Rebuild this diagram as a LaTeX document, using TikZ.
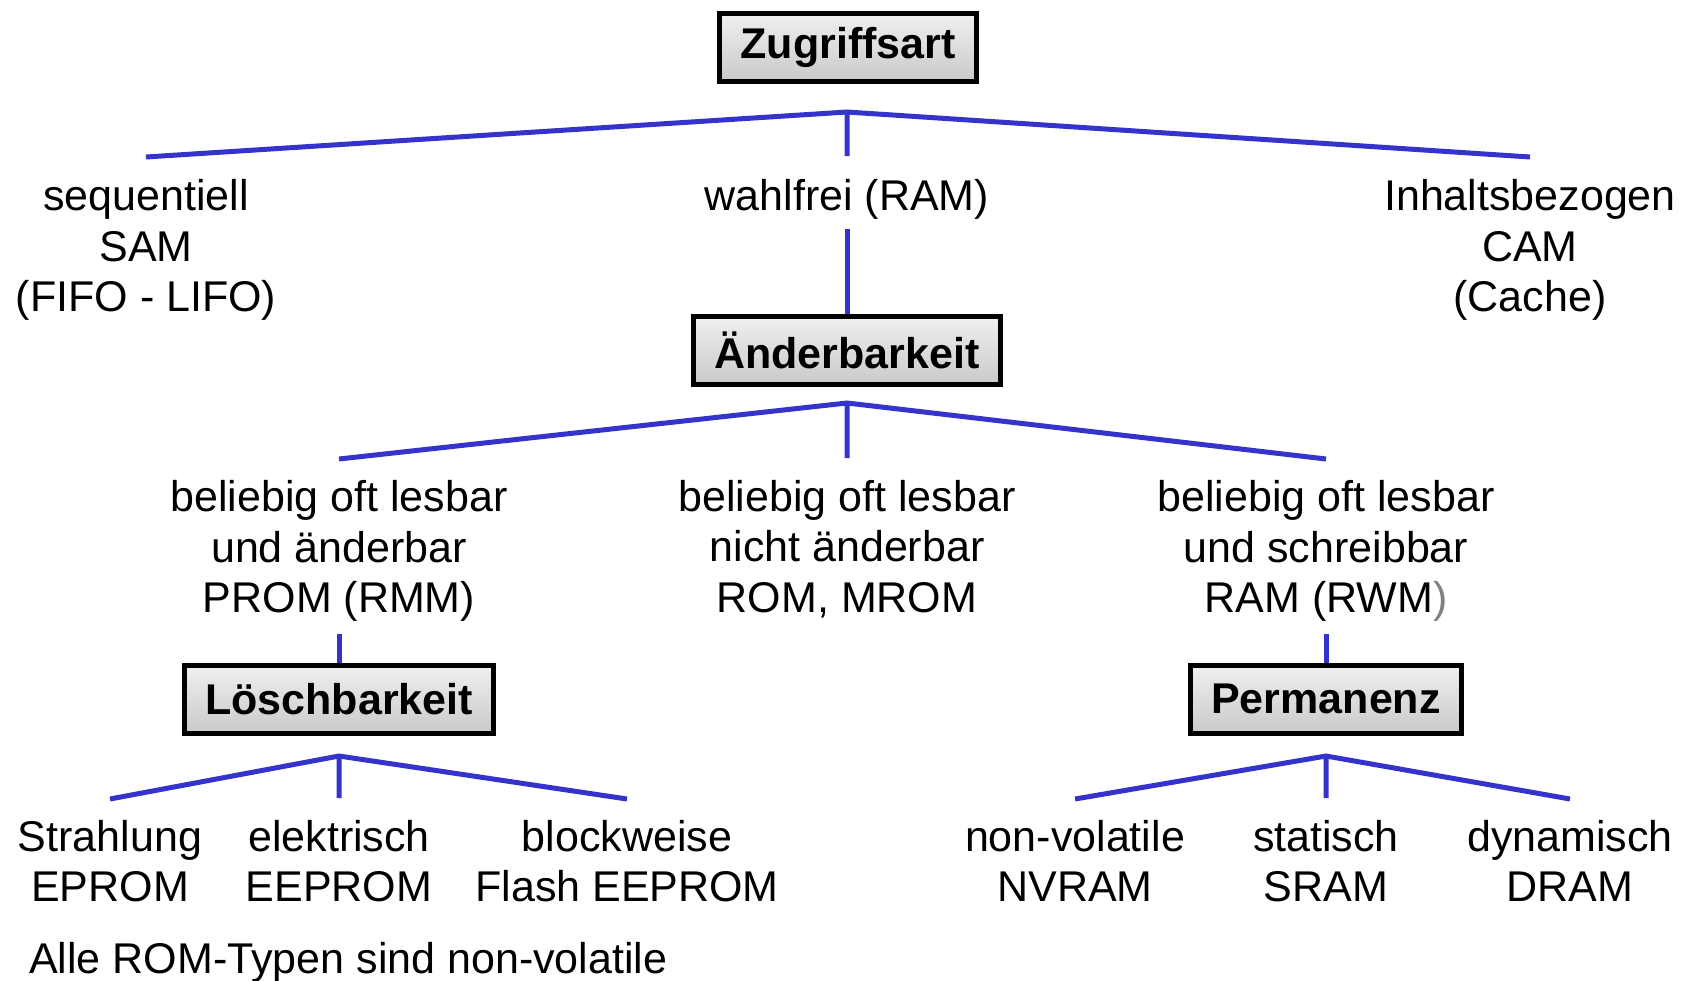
\documentclass[tikz,border=0pt]{standalone}
\usepackage{fontspec}
\setmainfont{Liberation Sans}
\usetikzlibrary{shadows}
\usepackage{xcolor}
\definecolor{treeblue}{RGB}{52,52,204}

\begin{document}
\begin{tikzpicture}[x=1pt, y=-1pt]
        % ================= styles =================
        \tikzset{
            catbox/.style={draw=black, line width=5pt, top color=gray!12, bottom color=gray!42,
                drop shadow={opacity=0.35, shadow xshift=2pt, shadow yshift=-3pt},
                minimum height=68pt, inner xsep=21pt, font=\fontsize{43}{45}\selectfont\bfseries},
            leaf/.style={align=center, inner sep=0pt, font=\fontsize{43}{50.7}\selectfont},
            tree_edge/.style={line width=5pt, treeblue}
        }
        \useasboundingbox (0,0) rectangle (1691,980);

        % ================= level 1: Zugriffsart =================
        \node[catbox] (zugriff) at (848,47) {Zugriffsart};
        \coordinate (z0) at (847,112);
        \coordinate (z1) at (146,157);
        \coordinate (z2) at (847,156);
        \coordinate (z3) at (1530,157);
        \draw[tree_edge] (z1) -- (z0) -- (z3) (z0) -- (z2);

        \node[leaf] (sam) at (146,250) {sequentiell\\SAM\\(FIFO - LIFO)};
        \node[leaf] (ram) at (847,199) {wahlfrei (RAM)};
        \node[leaf] (cam) at (1530,250) {Inhaltsbezogen\\CAM\\(Cache)};

        % ================= level 2: Änderbarkeit =================
        \node[catbox] (aender) at (847,350) {Änderbarkeit};
        \coordinate (r0) at (847,229);
        \draw[tree_edge] (r0) -- (aender.north);

        \coordinate (a0) at (847,403);
        \coordinate (a1) at (339,459);
        \coordinate (a2) at (847,458);
        \coordinate (a3) at (1326,459);
        \draw[tree_edge] (a1) -- (a0) -- (a3) (a0) -- (a2);

        \node[leaf] (prom) at (339,551) {beliebig oft lesbar\\und änderbar\\PROM (RMM)};
        \node[leaf] (rom) at (847,549) {beliebig oft lesbar\\nicht änderbar\\ROM, MROM};
        \node[leaf] (rwm) at (1326,551) {beliebig oft lesbar\\und schreibbar\\RAM (RWM{\color{gray})}};

        % ================= level 3: Löschbarkeit / Permanenz =================
        \node[catbox] (loesch) at (339,699) {Löschbarkeit};
        \node[catbox] (perm) at (1326,699) {Permanenz};
        \coordinate (p0) at (339,634);
        \coordinate (q0) at (1326,634);
        \draw[tree_edge] (p0) -- (loesch.north);
        \draw[tree_edge] (q0) -- (perm.north);

        \coordinate (l0) at (339,756);
        \coordinate (l1) at (110,799);
        \coordinate (l2) at (339,798);
        \coordinate (l3) at (627,799);
        \draw[tree_edge] (l1) -- (l0) -- (l3) (l0) -- (l2);

        \coordinate (m0) at (1326,756);
        \coordinate (m1) at (1075,799);
        \coordinate (m2) at (1326,798);
        \coordinate (m3) at (1570,799);
        \draw[tree_edge] (m1) -- (m0) -- (m3) (m0) -- (m2);

        \node[leaf] (eprom) at (110,861) {Strahlung\\EPROM};
        \node[leaf] (eeprom) at (339,861) {elektrisch\\EEPROM};
        \node[leaf] (flash) at (627,861) {blockweise\\Flash EEPROM};
        \node[leaf] (nvram) at (1075,861) {non-volatile\\NVRAM};
        \node[leaf] (sram) at (1326,861) {statisch\\SRAM};
        \node[leaf] (dram) at (1570,861) {dynamisch\\DRAM};

        % Hinweis unten links
        \node[leaf, anchor=west] (hinweis) at (29,962) {Alle ROM-Typen sind non-volatile};

    \end{tikzpicture}
\end{document}
